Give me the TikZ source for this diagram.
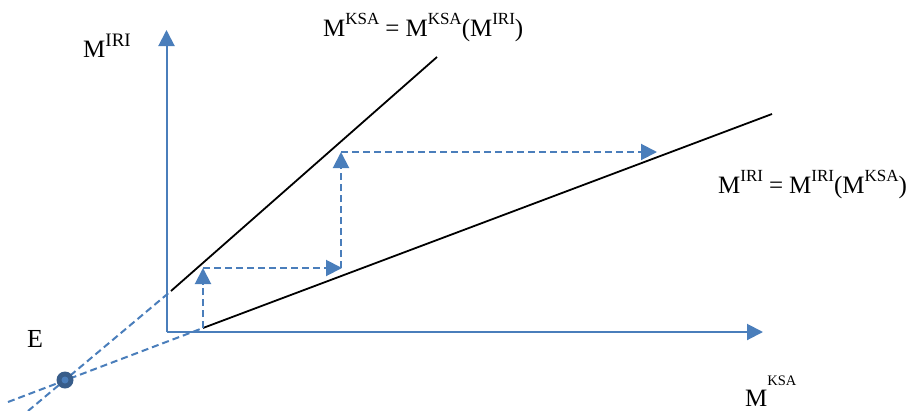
\documentclass[tikz,border=0pt]{standalone}
\usepackage{fontspec}
\setmainfont{Liberation Serif}
\usetikzlibrary{arrows.meta}
\definecolor{axblue}{HTML}{4A7EBB}
\definecolor{dotblue}{HTML}{385D8A}
\tikzset{
  axisline/.style={axblue, line width=2pt, -{Triangle[length=16pt,width=16pt]}},
  curveline/.style={black, line width=1.8pt},
  guide/.style={axblue, line width=2pt, dash pattern=on 7pt off 4pt},
  guidearrow/.style={guide, -{Triangle[length=16pt,width=16pt]}},
  lbl/.style={anchor=base west, inner sep=0pt, font=\fontsize{25}{25}\selectfont},
}
\newcommand{\supx}[3]{\raisebox{#1}{\fontsize{#2}{#2}\selectfont #3}}
\newcommand{\eqsp}{\hspace{6pt}}
\begin{document}
\begin{tikzpicture}[x=1pt,y=-1pt]
\useasboundingbox (0,0) rectangle (916,410);
% coordinates
\coordinate (O) at (166.5,332);
\coordinate (Ytip) at (166.5,30);
\coordinate (Xtip) at (763,332);
\coordinate (K0) at (171,291);
\coordinate (K1) at (437,57);
\coordinate (I0) at (203,328);
\coordinate (I1) at (772,114);
\coordinate (L1) at (28,411);
\coordinate (L2) at (8,402);
\coordinate (P1) at (203,268);
\coordinate (P2) at (342,268);
\coordinate (P2b) at (341,268);
\coordinate (P3) at (341,152);
\coordinate (P4) at (657,152);
% axes
\draw[axisline] (O) -- (Ytip);
\draw[axisline] (O) -- (Xtip);
% reaction curves
\draw[curveline] (K0) -- (K1);
\draw[curveline] (I0) -- (I1);
% dashed extensions to E
\draw[guide] (L1) -- (K0);
\draw[guide] (L2) -- (I0);
% adjustment path
\draw[guidearrow] (I0) -- (P1);
\draw[guidearrow] (P1) -- (P2);
\draw[guidearrow] (P2b) -- (P3);
\draw[guidearrow] (P3) -- (P4);
% equilibrium point
\node[circle, fill=dotblue, minimum size=17pt, inner sep=0pt] (E) at (65,380) {};
\fill[axblue] (E.center) circle (3.5pt);
% labels
\node[lbl] (ylab) at (83,57) {M\supx{11pt}{19}{IRI}};
\node[lbl] (xlab) at (745,406) {M\supx{21pt}{14.5}{KSA}};
\node[lbl, font=\fontsize{26}{26}\selectfont] (elab) at (27,347) {E};
\node[lbl] (eqk) at (323,36) {M\supx{12pt}{17}{KSA}\eqsp=\eqsp M\supx{12pt}{17}{KSA}(M\supx{12pt}{17}{IRI})};
\node[lbl] (eqi) at (718,193) {M\supx{12pt}{17}{IRI}\eqsp=\eqsp M\supx{12pt}{17}{IRI}(M\supx{12pt}{17}{KSA})};
\end{tikzpicture}
\end{document}
